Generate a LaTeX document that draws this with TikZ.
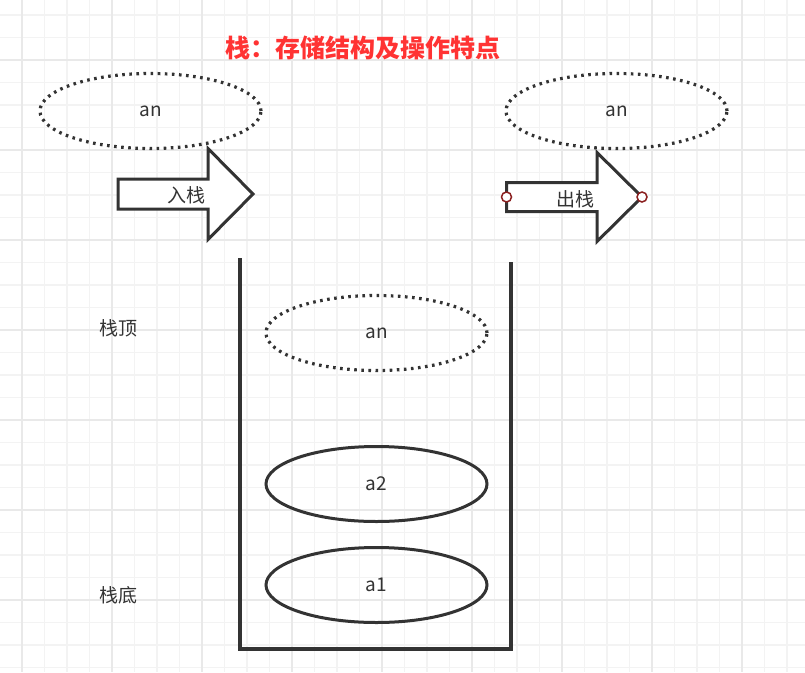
\documentclass[tikz,border=0pt]{standalone}
\usepackage{fontspec}
\setmainfont{Noto Sans CJK SC}
\usetikzlibrary{shapes.geometric}
\definecolor{ink}{HTML}{333333}
\definecolor{titlered}{HTML}{FF3333}
\definecolor{gridminor}{HTML}{F3F3F3}
\definecolor{gridmajor}{HTML}{E9E9E9}
\definecolor{ptred}{HTML}{8B2020}
\tikzset{
  lbl/.style={text=ink, font=\fontsize{19}{21}\selectfont, inner sep=0pt},
  elbase/.style={ellipse, minimum width=221pt, minimum height=75pt, inner sep=0pt, text=ink, font=\fontsize{19}{21}\selectfont},
  dotel/.style={elbase, draw=ink, line width=3.2pt, dash pattern=on 2.6pt off 4.5pt},
  solidel/.style={elbase, draw=ink, line width=3pt},
  arrowshape/.style={draw=ink, line width=3pt, fill=white, line join=miter},
  wall/.style={draw=ink, line width=3.2pt},
  handle/.style={circle, draw=ptred, fill=white, line width=1.5pt, minimum size=10pt, inner sep=0pt}
}
\begin{document}
\begin{tikzpicture}[x=1pt,y=-1pt]
\fill[white] (0,0) rectangle (805,672);
\useasboundingbox (0,0) rectangle (805,672);
% grid
\foreach \i in {0,...,36}{
  \pgfmathsetmacro{\xx}{-0.5+22.5*\i}
  \draw[gridminor, line width=1.2pt] (\xx,0) -- (\xx,672);
}
\foreach \i in {0,...,30}{
  \pgfmathsetmacro{\yy}{15+22.5*(\i-1)}
  \draw[gridminor, line width=1.2pt] (0,\yy) -- (805,\yy);
}
\foreach \i in {0,...,8}{
  \pgfmathsetmacro{\xx}{22+90*\i}
  \draw[gridmajor, line width=1.4pt] (\xx,0) -- (\xx,672);
}
\foreach \i in {0,...,7}{
  \pgfmathsetmacro{\yy}{60+90*\i}
  \draw[gridmajor, line width=1.4pt] (0,\yy) -- (805,\yy);
}
% title
\node[text=titlered, font=\fontsize{25}{28}\selectfont\bfseries, inner sep=0pt] (title) at (363,48) {栈：存储结构及操作特点};
% top ellipses
\node[dotel] (anL) at (150.5,111) {an};
\node[dotel] (anR) at (616.5,111) {an};
% push arrow
\draw[arrowshape] (118,179) -- (208,179) -- (208,148.5) -- (253,194) -- (208,239.5) -- (208,209) -- (118,209) -- cycle;
\node[lbl] (push) at (186,195) {入栈};
% pop arrow
\draw[arrowshape] (506.5,182.5) -- (597,182.5) -- (597,152.5) -- (642,197) -- (597,241.5) -- (597,211.5) -- (506.5,211.5) -- cycle;
\node[lbl] (pop) at (575,199) {出栈};
\node[handle] (h1) at (506.5,197) {};
\node[handle] (h2) at (642,197) {};
% container
\coordinate (tl) at (240,258);
\coordinate (bl) at (240,649);
\coordinate (br) at (511,649);
\coordinate (tr) at (511,262);
\draw[wall, line join=miter] (tl) -- (bl) -- (br) -- (tr);
% labels
\node[lbl] (top) at (118,328) {栈顶};
\node[lbl] (bottom) at (118,595) {栈底};
% stack items
\node[dotel] (an) at (376.5,333) {an};
\node[solidel] (a2) at (376.5,484) {a2};
\node[solidel] (a1) at (376.5,585) {a1};
\end{tikzpicture}
\end{document}
